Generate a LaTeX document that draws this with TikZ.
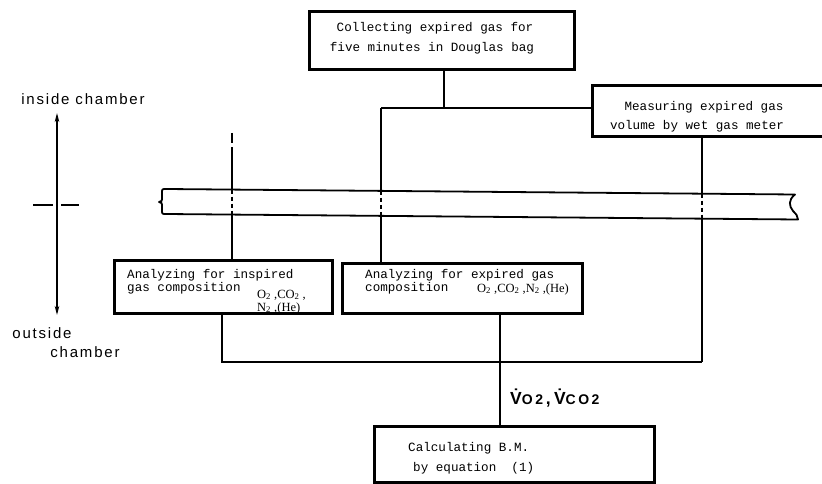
\documentclass[tikz,border=0pt]{standalone}
\usepackage{fontspec}
\setmainfont{Liberation Serif}
\setsansfont{Liberation Sans}
\setmonofont{Liberation Mono}
\newfontfamily\chfont{Liberation Sans}[LetterSpace=12]
\newfontfamily\vfont{Liberation Sans}[LetterSpace=18]
\usetikzlibrary{arrows.meta}
\tikzset{
  box/.style={draw, line width=3pt, inner sep=0pt},
  conn/.style={line width=1.6pt},
  wallin/.style={line width=1.6pt, dash pattern=on 4pt off 3pt},
  wall/.style={line width=1.8pt, line join=round},
  tx/.style={font=\ttfamily\fontsize{12.6}{13}\selectfont, inner sep=0pt},
  txw/.style={tx, anchor=west},
  chem/.style={font=\rmfamily\fontsize{12.5}{13}\selectfont, inner sep=0pt, anchor=base west},
  side/.style={font=\chfont\fontsize{15}{16}\selectfont, inner sep=0pt},
}
\begin{document}
\begin{tikzpicture}[x=1pt,y=-1pt]
\path[use as bounding box, clip] (0,0) rectangle (822,484);

% boxes
\node[box, minimum width=265pt, minimum height=58pt] (top) at (441.5,41) {};
\node[box, minimum width=238pt, minimum height=51pt] (meas) at (711,111.5) {};
\node[box, minimum width=218pt, minimum height=53pt] (insp) at (223,286.5) {};
\node[box, minimum width=240pt, minimum height=50pt] (expi) at (462,288) {};
\node[box, minimum width=280pt, minimum height=56pt] (calc) at (514,454) {};

% box texts
\node[tx] (t1) at (435,28) {Collecting expired gas for};
\node[tx] (t2) at (432,48) {five minutes in Douglas bag};
\node[tx] (m1) at (704,107) {Measuring expired gas};
\node[tx] (m2) at (697,126) {volume by wet gas meter};
\node[txw] (i1) at (127,275) {Analyzing for inspired};
\node[txw] (i2) at (127,288) {gas composition};
\node[chem] (ic1) at (257,298) {O\textsubscript{2} ,CO\textsubscript{2} ,};
\node[chem] (ic2) at (257,311) {N\textsubscript{2} ,(He)};
\node[txw] (e1) at (365,275) {Analyzing for expired gas};
\node[txw] (e2) at (365,288) {composition};
\node[chem] (ec) at (477,292) {O\textsubscript{2} ,CO\textsubscript{2} ,N\textsubscript{2} ,(He)};
\node[txw] (c1) at (408,448) {Calculating B.M.};
\node[txw] (c2) at (413,468) {by equation\ \ (1)};

% wall
\draw[wall] (166,189) -- (795,194.5)
  .. controls (788,200) and (789,206) .. (793,211)
  .. controls (796,214) and (798,216) .. (798,219.5)
  -- (166,214)
  .. controls (162,214) .. (162,210) -- (162,205)
  .. controls (162,203) .. (159,202)
  .. controls (162,201) .. (162,199) -- (162,193)
  .. controls (162,189) .. (166,189) -- cycle;

% coordinates
\coordinate (j1) at (444,108);
\coordinate (jL) at (381,108);
\coordinate (wtE) at (381,190.9);
\coordinate (wbE) at (381,215.9);
\coordinate (mx) at (702,362);
\coordinate (wtM) at (702,193.7);
\coordinate (wbM) at (702,218.7);
\coordinate (bl) at (222,362);
\coordinate (bm) at (500,362);
\coordinate (it) at (232,133);
\coordinate (itA) at (232,143);
\coordinate (itB) at (232,147);
\coordinate (wtI) at (232,189.6);
\coordinate (wbI) at (232,214.6);

% connectors
\draw[conn] (top.south -| j1) -- (j1);
\draw[conn] (jL) -- (meas.west |- jL);
\draw[conn] (jL) -- (wtE);
\draw[wallin] (wtE) -- (wbE);
\draw[conn] (wbE) -- (expi.north -| jL);

\draw[conn] (meas.south -| mx) -- (wtM);
\draw[wallin] (wtM) -- (wbM);
\draw[conn] (wbM) -- (mx);

\draw[conn] (insp.south -| bl) -- (bl) -- (mx);
\draw[conn] (expi.south -| bm) -- (calc.north -| bm);

\draw[conn] (it) -- (itA);
\draw[conn] (itB) -- (wtI);
\draw[wallin] (wtI) -- (wbI);
\draw[conn] (wbI) -- (insp.north -| it);

% flow label
\node[font=\vfont\bfseries\fontsize{17.5}{18}\selectfont, inner sep=0pt, anchor=west] (v) at (510,398)
  {\.{V}{\fontsize{14}{14}\selectfont O2}\,,\.{V}{\fontsize{14}{14}\selectfont CO2}};

% inside/outside indicator
\coordinate (at) at (57,113);
\coordinate (ab) at (57,315);
\draw[line width=1.4pt, {Stealth[length=9pt,width=4.5pt]}-{Stealth[length=9pt,width=4.5pt]}] (at) -- (ab);
\coordinate (hL) at (33,205);
\coordinate (hR) at (79,205);
\draw[line width=1.2pt] (hL) -- (53,205);
\draw[line width=1.2pt] (61,205) -- (hR);
\node[side] (ins) at (83,99) {inside chamber};
\node[side] (out1) at (42,333) {outside};
\node[side] (out2) at (85,352) {chamber};
\end{tikzpicture}
\end{document}
